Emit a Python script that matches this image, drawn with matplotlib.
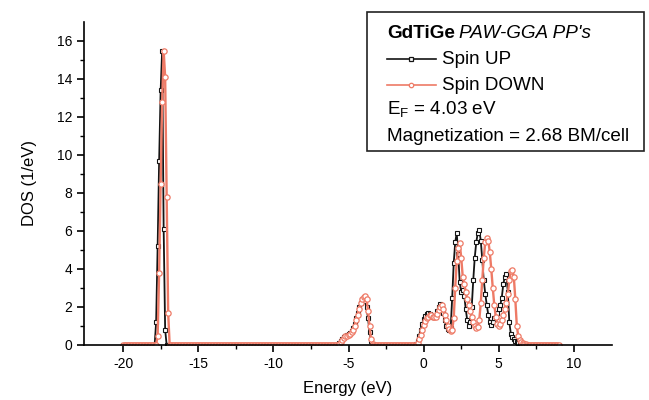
import numpy as np
import matplotlib.pyplot as plt
from matplotlib.lines import Line2D
from matplotlib.patches import Rectangle

plt.rcParams['font.family'] = ['Liberation Sans', 'DejaVu Sans']
plt.rcParams['mathtext.fontset'] = 'custom'
plt.rcParams['mathtext.rm'] = 'Liberation Sans'
plt.rcParams['axes.unicode_minus'] = False

# energy grid of the DOS output, -20 .. 9 eV in 0.1 eV steps
energy = np.round(np.arange(-20.0, 9.05, 0.1), 2)

# spin up DOS (1/eV), one row per eV starting at the energy in the comment
spin_up = [
    0, 0, 0, 0, 0, 0, 0, 0, 0, 0,                          # -20
    0, 0, 0, 0, 0, 0, 0, 0, 0, 0,                          # -19
    0, 0, 1.2, 5.2, 9.7, 13.4, 15.5, 6.1, 0.8, 0,          # -18
    0, 0, 0, 0, 0, 0, 0, 0, 0, 0,                          # -17
    0, 0, 0, 0, 0, 0, 0, 0, 0, 0,                          # -16
    0, 0, 0, 0, 0, 0, 0, 0, 0, 0,                          # -15
    0, 0, 0, 0, 0, 0, 0, 0, 0, 0,                          # -14
    0, 0, 0, 0, 0, 0, 0, 0, 0, 0,                          # -13
    0, 0, 0, 0, 0, 0, 0, 0, 0, 0,                          # -12
    0, 0, 0, 0, 0, 0, 0, 0, 0, 0,                          # -11
    0, 0, 0, 0, 0, 0, 0, 0, 0, 0,                          # -10
    0, 0, 0, 0, 0, 0, 0, 0, 0, 0,                          # -9
    0, 0, 0, 0, 0, 0, 0, 0, 0, 0,                          # -8
    0, 0, 0, 0, 0, 0, 0, 0, 0, 0,                          # -7
    0, 0, 0, 0, 0.1, 0.2, 0.3, 0.4, 0.5, 0.55,             # -6
    0.6, 0.65, 0.75, 0.9, 1.1, 1.4, 1.7, 2.0, 2.2, 2.35,   # -5
    2.4, 2.3, 2.0, 1.4, 0.7, 0.2, 0.05, 0, 0, 0,           # -4
    0, 0, 0, 0, 0, 0, 0, 0, 0, 0,                          # -3
    0, 0, 0, 0, 0, 0, 0, 0, 0, 0,                          # -2
    0, 0, 0, 0, 0, 0.05, 0.2, 0.5, 0.8, 1.1,               # -1
    1.35, 1.55, 1.65, 1.7, 1.65, 1.55, 1.45, 1.45, 1.55, 1.8,   # 0
    2.0, 2.15, 2.0, 1.7, 1.3, 1.0, 0.85, 0.8, 0.9, 2.5,    # 1
    4.3, 5.4, 5.9, 4.8, 3.3, 2.8, 2.9, 2.6, 1.9, 1.3,      # 2
    1.0, 1.2, 2.0, 3.4, 4.6, 5.4, 5.9, 6.05, 5.5, 4.5,     # 3
    3.4, 2.7, 2.1, 1.6, 1.2, 1.05, 1.2, 1.4, 1.5, 1.7,     # 4
    1.9, 2.1, 2.5, 3.2, 3.6, 3.75, 2.8, 1.2, 0.6, 0.4,     # 5
    0.3, 0.2, 0.15, 0.1, 0.07, 0.05, 0.03, 0.02, 0.01, 0,  # 6
    0, 0, 0, 0, 0, 0, 0, 0, 0, 0,                          # 7
    0, 0, 0, 0, 0, 0, 0, 0, 0, 0,                          # 8
    0,                                                     # 9
]

# spin down DOS (1/eV)
spin_down = [
    0, 0, 0, 0, 0, 0, 0, 0, 0, 0,                          # -20
    0, 0, 0, 0, 0, 0, 0, 0, 0, 0,                          # -19
    0, 0, 0, 0.5, 3.8, 8.5, 12.8, 15.5, 14.1, 7.8,         # -18
    1.7, 0, 0, 0, 0, 0, 0, 0, 0, 0,                        # -17
    0, 0, 0, 0, 0, 0, 0, 0, 0, 0,                          # -16
    0, 0, 0, 0, 0, 0, 0, 0, 0, 0,                          # -15
    0, 0, 0, 0, 0, 0, 0, 0, 0, 0,                          # -14
    0, 0, 0, 0, 0, 0, 0, 0, 0, 0,                          # -13
    0, 0, 0, 0, 0, 0, 0, 0, 0, 0,                          # -12
    0, 0, 0, 0, 0, 0, 0, 0, 0, 0,                          # -11
    0, 0, 0, 0, 0, 0, 0, 0, 0, 0,                          # -10
    0, 0, 0, 0, 0, 0, 0, 0, 0, 0,                          # -9
    0, 0, 0, 0, 0, 0, 0, 0, 0, 0,                          # -8
    0, 0, 0, 0, 0, 0, 0, 0, 0, 0,                          # -7
    0, 0, 0, 0, 0.05, 0.15, 0.25, 0.35, 0.45, 0.5,         # -6
    0.55, 0.6, 0.7, 0.8, 1.0, 1.3, 1.6, 1.9, 2.2, 2.4,     # -5
    2.55, 2.6, 2.4, 1.8, 1.0, 0.3, 0.05, 0, 0, 0,          # -4
    0, 0, 0, 0, 0, 0, 0, 0, 0, 0,                          # -3
    0, 0, 0, 0, 0, 0, 0, 0, 0, 0,                          # -2
    0, 0, 0, 0, 0, 0.02, 0.1, 0.3, 0.55, 0.8,              # -1
    1.05, 1.25, 1.4, 1.5, 1.6, 1.6, 1.5, 1.45, 1.5, 1.65,  # 0
    1.85, 2.0, 2.1, 1.9, 1.6, 1.3, 1.0, 0.85, 0.75, 0.8,   # 1
    1.4, 3.0, 4.4, 5.1, 5.35, 4.6, 3.6, 3.2, 2.8, 2.4,     # 2
    2.1, 1.8, 1.5, 1.2, 1.0, 0.9, 0.95, 1.3, 2.2, 3.4,     # 3
    4.6, 5.4, 5.65, 5.5, 4.9, 4.0, 3.0, 2.1, 1.5, 1.1,     # 4
    1.0, 1.1, 1.3, 1.6, 1.9, 2.2, 2.7, 3.4, 3.9, 3.95,     # 5
    3.6, 2.4, 1.0, 0.45, 0.25, 0.15, 0.1, 0.06, 0.04, 0.02,  # 6
    0.01, 0, 0, 0, 0, 0, 0, 0, 0, 0,                       # 7
    0, 0, 0, 0, 0, 0, 0, 0, 0, 0,                          # 8
    0,                                                     # 9
]

up_color = '#141414'
down_color = '#ee7a66'

W, H = 649, 400
fig = plt.figure(figsize=(W / 100, H / 100), dpi=100)
ax = fig.add_axes([84 / W, 55 / H, (611.5 - 84) / W, (345 - 22) / H])

ax.plot(energy, spin_up, color=up_color, lw=1.3, marker='s', ms=3.4,
        mfc='white', mec=up_color, mew=0.8)
ax.plot(energy, spin_down, color=down_color, lw=1.7, marker='o', ms=3.8,
        mfc='white', mec=down_color, mew=0.9)

ax.set_xlim(-22.6, 12.5)
ax.set_ylim(0, 17)
ax.set_xticks([-20, -15, -10, -5, 0, 5, 10])
ax.set_xticks(np.arange(-17.5, 12.5, 5), minor=True)
ax.set_yticks(range(0, 17, 2))
ax.set_yticks(range(1, 17, 2), minor=True)
ax.spines['top'].set_visible(False)
ax.spines['right'].set_visible(False)
for s in ('left', 'bottom'):
    ax.spines[s].set_linewidth(1.2)
ax.tick_params(which='major', direction='out', length=5, width=1.2, labelsize=10)
ax.tick_params(which='minor', direction='out', length=3, width=1.0)
ax.set_xlabel('Energy (eV)', fontsize=12, labelpad=7)
ax.set_ylabel('DOS (1/eV)', fontsize=12, labelpad=14)


# legend box drawn by hand in pixel positions
def fx(px):
    return px / W


def fy(py):
    return 1 - py / H


fig.patches.append(Rectangle((fx(367), fy(151)), fx(644) - fx(367), fy(12) - fy(151),
                             transform=fig.transFigure, fill=False, ec='#222222', lw=1.2))
fs = 13.6
t1 = fig.text(fx(387), fy(33), 'GdTiGe', fontsize=fs, fontweight='bold', va='center')
fig.canvas.draw()
bb = t1.get_window_extent()
fig.text(bb.x1 / W + 4 / W, fy(33), "PAW-GGA PP's", fontsize=fs, style='italic', va='center')

for py, col, mk, label in [(59, up_color, 's', 'Spin UP'), (85, down_color, 'o', 'Spin DOWN')]:
    fig.lines.append(Line2D([fx(387), fx(436)], [fy(py), fy(py)], transform=fig.transFigure,
                            color=col, lw=1.2))
    fig.lines.append(Line2D([fx(411)], [fy(py)], transform=fig.transFigure, marker=mk,
                            ms=3.2, mfc='white', mec=col, mew=0.9))
    fig.text(fx(442), fy(py), label, fontsize=fs, va='center')

fig.text(fx(387), fy(110), r'E$_\mathrm{F}$ = 4.03 eV', fontsize=fs, va='center')
fig.text(fx(387), fy(136), 'Magnetization = 2.68 BM/cell', fontsize=fs, va='center')

fig.savefig('out.png', dpi=100)
